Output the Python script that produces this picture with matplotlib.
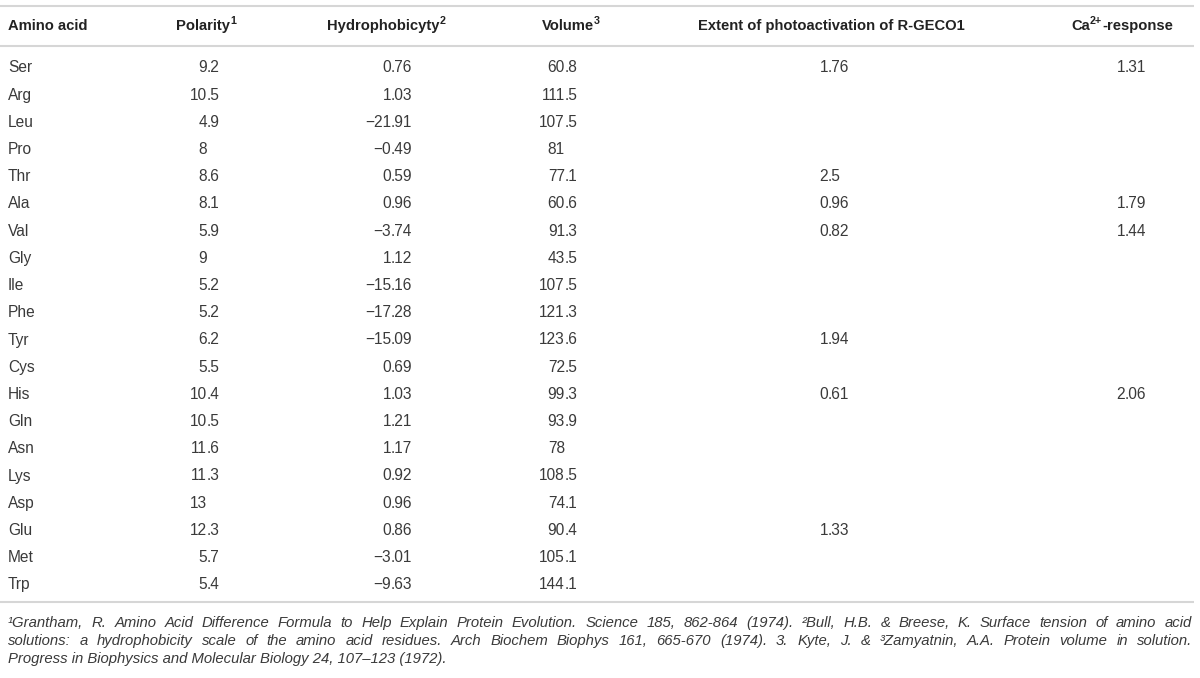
import matplotlib
matplotlib.use("Agg")
import matplotlib.pyplot as plt

# table content
amino_acids = ["Ser", "Arg", "Leu", "Pro", "Thr", "Ala", "Val", "Gly", "Ile", "Phe",
               "Tyr", "Cys", "His", "Gln", "Asn", "Lys", "Asp", "Glu", "Met", "Trp"]
polarity = ["9.2", "10.5", "4.9", "8", "8.6", "8.1", "5.9", "9", "5.2", "5.2",
            "6.2", "5.5", "10.4", "10.5", "11.6", "11.3", "13", "12.3", "5.7", "5.4"]
hydrophobicity = ["0.76", "1.03", "\u221221.91", "\u22120.49", "0.59", "0.96", "\u22123.74", "1.12",
                  "\u221215.16", "\u221217.28", "\u221215.09", "0.69", "1.03", "1.21", "1.17",
                  "0.92", "0.96", "0.86", "\u22123.01", "\u22129.63"]
volume = ["60.8", "111.5", "107.5", "81", "77.1", "60.6", "91.3", "43.5", "107.5", "121.3",
          "123.6", "72.5", "99.3", "93.9", "78", "108.5", "74.1", "90.4", "105.1", "144.1"]
photoactivation = ["1.76", "", "", "", "2.5", "0.96", "0.82", "", "", "",
                   "1.94", "", "0.61", "", "", "", "", "1.33", "", ""]
ca_response = ["1.31", "", "", "", "", "1.79", "1.44", "", "", "",
               "", "", "2.06", "", "", "", "", "", "", ""]

footnote_lines = [
    "\u00b9Grantham, R. Amino Acid Difference Formula to Help Explain Protein Evolution. "
    "Science 185, 862-864 (1974). \u00b2Bull, H.B. & Breese, K. Surface tension of amino acid",
    "solutions: a hydrophobicity scale of the amino acid residues. Arch Biochem Biophys 161, "
    "665-670 (1974). 3. Kyte, J. & \u00b3Zamyatnin, A.A. Protein volume in solution.",
    "Progress in Biophysics and Molecular Biology 24, 107\u2013123 (1972).",
]

FONT = ["Liberation Sans", "DejaVu Sans"]
LINE_COLOR = "#d6d6d6"
HEAD_COLOR = "#222222"
BODY_COLOR = "#3a3a3a"
HEAD_SIZE = 10.6
BODY_SIZE = 11.2
FOOT_SIZE = 10.7

fig = plt.figure(figsize=(12, 6.78), dpi=100)
ax = fig.add_axes([0, 0, 1, 1])
ax.set_xlim(0, 1200)
ax.set_ylim(678, 0)
ax.axis("off")
fig.canvas.draw()
renderer = fig.canvas.get_renderer()


def text_width(t):
    bb = t.get_window_extent(renderer=renderer)
    return bb.width


def header_parts(x, y, parts, align="center"):
    # parts: (text, is_superscript)
    objs = []
    total = 0
    for s, sup in parts:
        t = ax.text(0, y - (5 if sup else 0), s, fontsize=HEAD_SIZE * (0.72 if sup else 1.0),
                    fontweight="bold", family=FONT, color=HEAD_COLOR, va="center", ha="left")
        w = text_width(t)
        objs.append((t, w))
        total += w
    x0 = x - total / 2 if align == "center" else x
    for t, w in objs:
        t.set_x(x0)
        x0 += w


def decimal_text(x_dec, y, s):
    if not s:
        return
    if "." in s:
        whole, frac = s.split(".")
        frac = "." + frac
    else:
        whole, frac = s, ""
    ax.text(x_dec, y, whole, fontsize=BODY_SIZE, family=FONT, color=BODY_COLOR,
            va="center", ha="right")
    if frac:
        ax.text(x_dec, y, frac, fontsize=BODY_SIZE, family=FONT, color=BODY_COLOR,
                va="center", ha="left")


def justified(y, line, x0, x1):
    words = line.split(" ")
    objs = [ax.text(0, y, w, fontsize=FOOT_SIZE, family=FONT, style="italic",
                    color=BODY_COLOR, va="center", ha="left") for w in words]
    widths = [text_width(t) for t in objs]
    gap = (x1 - x0 - sum(widths)) / (len(words) - 1)
    x = x0
    for t, w in zip(objs, widths):
        t.set_x(x)
        x += w + gap


# rules
for yl in (6, 46, 602):
    ax.plot([0, 1194], [yl, yl], color=LINE_COLOR, lw=1.5, solid_capstyle="butt")

# header row
head_y = 26
header_parts(8, head_y, [("Amino acid", False)], align="left")
header_parts(206, head_y, [("Polarity", False), ("1", True)])
header_parts(386, head_y, [("Hydrophobicyty", False), ("2", True)])
header_parts(571, head_y, [("Volume", False), ("3", True)])
header_parts(831, head_y, [("Extent of photoactivation of R-GECO1", False)])
header_parts(1122, head_y, [("Ca", False), ("2+", True), ("-response", False)])

# body rows
row0 = 68
step = 27.2
for i, aa in enumerate(amino_acids):
    y = row0 + i * step
    ax.text(8, y, aa, fontsize=BODY_SIZE, family=FONT, color=BODY_COLOR, va="center", ha="left")
    decimal_text(207, y, polarity[i])
    decimal_text(391, y, hydrophobicity[i])
    decimal_text(565, y, volume[i])
    decimal_text(828, y, photoactivation[i])
    decimal_text(1125, y, ca_response[i])

# footnotes
foot_y = [623, 641, 659]
justified(foot_y[0], footnote_lines[0], 8, 1192)
justified(foot_y[1], footnote_lines[1], 8, 1192)
ax.text(8, foot_y[2], footnote_lines[2], fontsize=FOOT_SIZE, family=FONT, style="italic",
        color=BODY_COLOR, va="center", ha="left")

fig.savefig("out.png", dpi=100)
